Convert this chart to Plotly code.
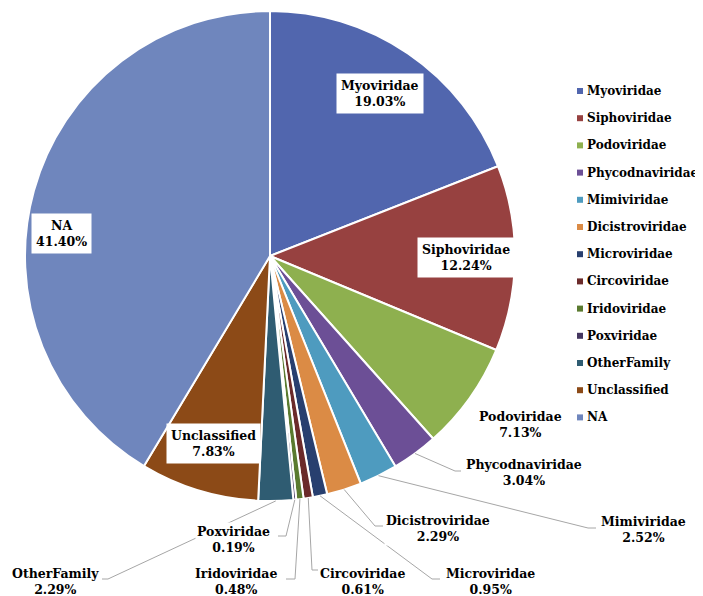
import math
import plotly.graph_objects as go

families = ["Myoviridae", "Siphoviridae", "Podoviridae", "Phycodnaviridae", "Mimiviridae",
            "Dicistroviridae", "Microviridae", "Circoviridae", "Iridoviridae", "Poxviridae",
            "OtherFamily", "Unclassified", "NA"]
percent = [19.03, 12.24, 7.13, 3.04, 2.52, 2.29, 0.95, 0.61, 0.48, 0.19, 2.29, 7.83, 41.40]
colors = ["#5166AE", "#974140", "#8EB04F", "#6C4F96", "#4E9BBF", "#DB8B45", "#283F6F",
          "#6B2A2A", "#5A7A2F", "#44365F", "#2F5C72", "#8C4A17", "#6F86BD"]

W, H = 703, 596
CX, CY, R = 262, 248, 245
FONT = "DejaVu Serif"
FS = 12.5
FS_LEG = 12


def px(x):
    return x / W


def py(y):
    return 1 - y / H


fig = go.Figure(go.Pie(
    labels=families, values=percent, sort=False, direction="clockwise", rotation=0,
    marker=dict(colors=colors, line=dict(color="white", width=2)),
    textinfo="none", hoverinfo="label+percent", showlegend=False,
    domain=dict(x=[px(CX - R), px(CX + R)], y=[py(CY + R), py(CY - R)]),
))

# mid angles from data
total = sum(percent)
cum = 0
mids = {}
for f, v in zip(families, percent):
    mids[f] = math.radians(360 * (cum + v / 2) / total)
    cum += v

annotations = []
shapes = []

# inside labels (white boxes)
inside = {"Myoviridae": (0, 0), "Siphoviridae": (0, 0), "Unclassified": (0, 0), "NA": (-20, 30)}
for f, (dx, dy) in inside.items():
    i = families.index(f)
    a = mids[f]
    r = 0.8 * R
    x = CX + r * math.sin(a) + dx
    y = CY - r * math.cos(a) + dy
    annotations.append(dict(
        x=px(x), y=py(y), xref="paper", yref="paper", showarrow=False,
        xanchor="center", yanchor="middle",
        text=f"<b>{f}<br>{percent[i]:.2f}%</b>", align="center",
        font=dict(family=FONT, size=FS, color="black"),
        bgcolor="white", borderpad=4))

# outside labels: label centre, elbow and end of leader line (pixels)
outside = {
    "Podoviridae": ((512, 416), None),
    "Phycodnaviridae": ((516, 464), [(447, 463), (453, 463)]),
    "Mimiviridae": ((635, 521), [(580, 520), (588, 520)]),
    "Dicistroviridae": ((430, 520), [(367, 518), (375, 518)]),
    "Microviridae": ((482, 573), [(424, 571), (432, 571)]),
    "Circoviridae": ((354, 573), [(304, 562), (310, 562)]),
    "Iridoviridae": ((228, 573), [(287, 571), (278, 571)]),
    "Poxviridae": ((225, 531), [(278, 528), (270, 528)]),
    "OtherFamily": ((47, 573), [(100, 571), (94, 571)]),
}
for f, (pos, line) in outside.items():
    i = families.index(f)
    if line:
        a = mids[f]
        ex = CX + R * math.sin(a)
        ey = CY - R * math.cos(a)
        pts = [(ex, ey)] + line
        for (x0, y0), (x1, y1) in zip(pts[:-1], pts[1:]):
            shapes.append(dict(type="line", xref="paper", yref="paper",
                               x0=px(x0), y0=py(y0), x1=px(x1), y1=py(y1),
                               line=dict(color="#A6A6A6", width=1), layer="above"))
    annotations.append(dict(
        x=px(pos[0]), y=py(pos[1]), xref="paper", yref="paper", showarrow=False,
        xanchor="center", yanchor="middle",
        text=f"<b>{f}<br>{percent[i]:.2f}%</b>", align="center",
        font=dict(family=FONT, size=FS, color="black"),
        bgcolor="white", borderpad=1))

# legend
LX, LY0, LDY = 572, 83, 27.2
for k, (f, c) in enumerate(zip(families, colors)):
    y = LY0 + k * LDY
    shapes.append(dict(type="rect", xref="paper", yref="paper",
                       x0=px(LX - 3), x1=px(LX + 3), y0=py(y + 3), y1=py(y - 3),
                       fillcolor=c, line=dict(width=0)))
    annotations.append(dict(
        x=px(LX + 5), y=py(y), xref="paper", yref="paper", showarrow=False,
        xanchor="left", yanchor="middle", text=f"<b>{f}</b>",
        font=dict(family=FONT, size=FS_LEG, color="black")))

fig.update_layout(
    width=W, height=H, margin=dict(l=0, r=0, t=0, b=0),
    paper_bgcolor="white", plot_bgcolor="white",
    font=dict(family=FONT),
    annotations=annotations, shapes=shapes,
)
fig.write_html("out.html")
